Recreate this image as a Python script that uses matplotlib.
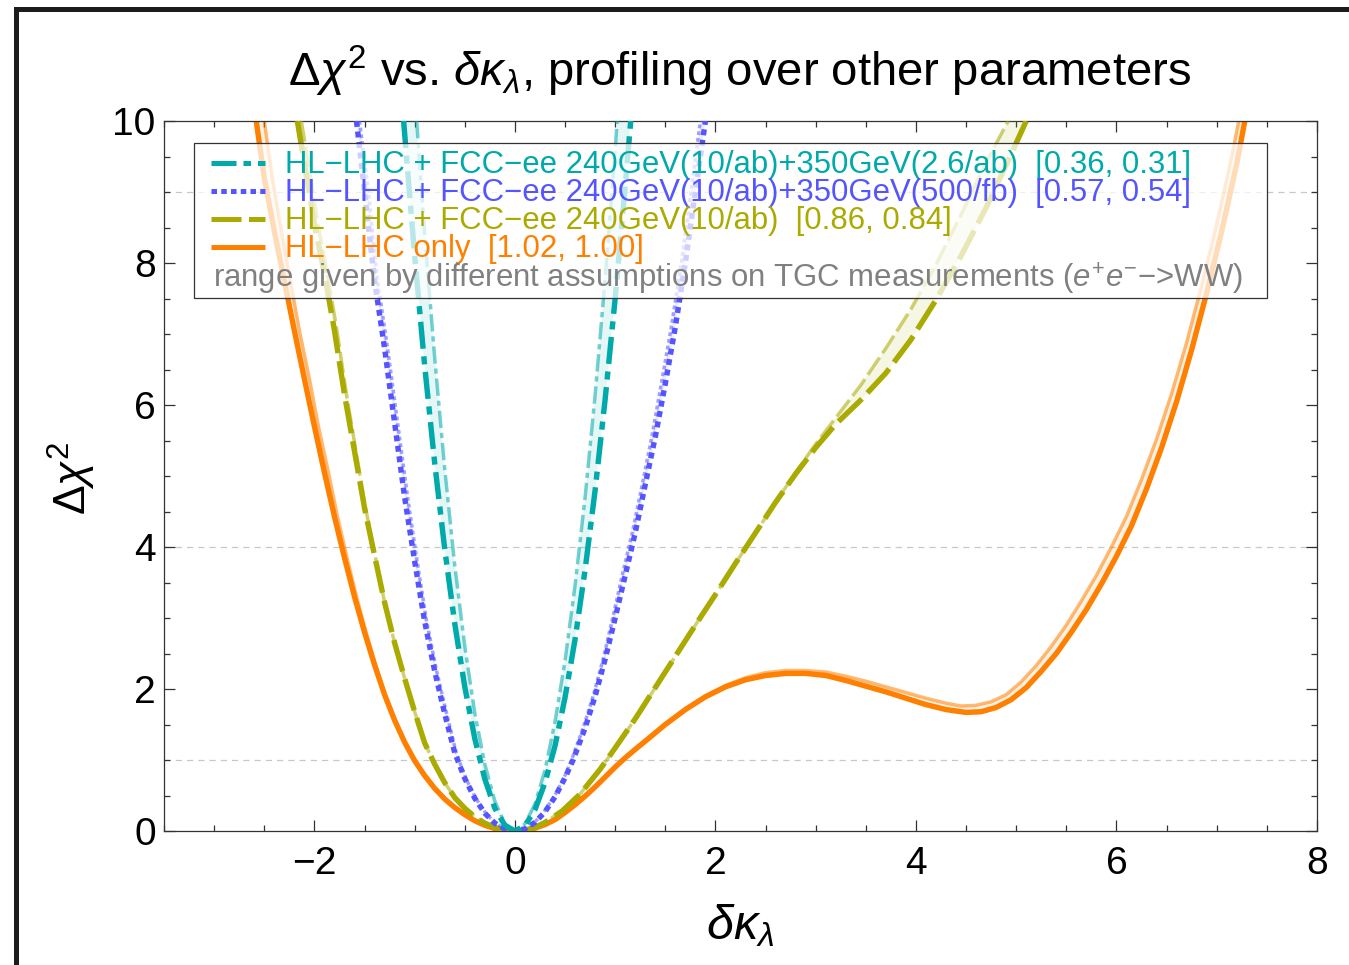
import numpy as np
import matplotlib
matplotlib.use('Agg')
import matplotlib.pyplot as plt
from matplotlib.patches import Rectangle
from matplotlib.ticker import MultipleLocator

plt.rcParams['font.family'] = ['Liberation Sans', 'DejaVu Sans']
plt.rcParams['mathtext.fontset'] = 'custom'
plt.rcParams['mathtext.rm'] = 'Liberation Sans'
plt.rcParams['mathtext.it'] = 'Liberation Sans:italic'
plt.rcParams['mathtext.bf'] = 'Liberation Sans:bold'

# ---------------- data ----------------
# FCC-ee 240 + 350 GeV (2.6/ab): two TGC assumptions
cyan_a_x = [-1.11, -1.05, -1.0, -0.9, -0.8, -0.7, -0.6, -0.5, -0.4, -0.3, -0.2, -0.1, 0.0,
            0.1, 0.2, 0.3, 0.4, 0.5, 0.6, 0.7, 0.8, 0.9, 1.0, 1.1, 1.155]
cyan_a_y = [10.0, 8.95, 8.1, 6.55, 5.18, 3.97, 2.92, 2.03, 1.3, 0.73, 0.32, 0.08, 0.0,
            0.075, 0.3, 0.68, 1.2, 1.88, 2.7, 3.68, 4.8, 6.08, 7.5, 9.08, 10.0]
cyan_b_x = [-0.98, -0.9, -0.8, -0.7, -0.6, -0.5, -0.4, -0.3, -0.2, -0.1, 0.0,
            0.1, 0.2, 0.3, 0.4, 0.5, 0.6, 0.7, 0.8, 0.9, 1.0, 1.02]
cyan_b_y = [10.0, 8.42, 6.66, 5.1, 3.74, 2.6, 1.66, 0.94, 0.42, 0.1, 0.0,
            0.1, 0.38, 0.86, 1.54, 2.4, 3.46, 4.7, 6.14, 7.78, 9.6, 10.0]

# FCC-ee 240 + 350 GeV (500/fb)
blue_a_x = [-1.58, -1.5, -1.4, -1.3, -1.2, -1.1, -1.0, -0.9, -0.8, -0.7, -0.6, -0.5, -0.4, -0.3, -0.2, -0.1, 0.0,
            0.1, 0.2, 0.3, 0.4, 0.5, 0.58, 0.7, 0.8, 0.9, 1.0, 1.1, 1.2, 1.3, 1.4, 1.5, 1.6, 1.7, 1.8, 1.9]
blue_a_y = [10.0, 9.0, 7.75, 6.8, 5.75, 4.7, 3.8, 2.95, 2.25, 1.65, 1.1, 0.74, 0.46, 0.25, 0.11, 0.03, 0.0,
            0.03, 0.12, 0.27, 0.48, 0.75, 1.0, 1.45, 1.9, 2.42, 3.0, 3.6, 4.2, 4.88, 5.55, 6.3, 7.1, 8.0, 9.0, 10.0]
blue_b_x = [-1.55, -1.46, -1.37, -1.27, -1.17, -1.07, -0.975, -0.88, -0.78, -0.68, -0.585, -0.49, -0.39, -0.29, -0.195, -0.1, 0.0,
            0.1, 0.195, 0.29, 0.39, 0.49, 0.565, 0.68, 0.78, 0.88, 0.975, 1.07, 1.17, 1.27, 1.365, 1.46, 1.56, 1.66, 1.755, 1.85]
blue_b_y = blue_a_y

# FCC-ee 240 GeV only
olive_a_x = [-2.17, -2.1, -2.0, -1.9, -1.8, -1.7, -1.6, -1.5, -1.4, -1.3, -1.2, -1.1, -1.0, -0.9, -0.8, -0.7,
             -0.6, -0.5, -0.4, -0.3, -0.2, -0.1, 0.0,
             0.1, 0.2, 0.3, 0.47, 0.65, 0.85, 1.0, 1.2, 1.4, 1.6, 1.8, 2.0, 2.2, 2.4, 2.6, 2.8, 3.0, 3.2,
             3.45, 3.7, 3.95, 4.2, 4.45, 4.7, 4.9, 5.1]
olive_a_y = [10.0, 9.4, 8.55, 7.85, 7.05, 6.15, 5.35, 4.55, 3.88, 3.22, 2.65, 2.15, 1.68, 1.24, 0.94, 0.68,
             0.47, 0.32, 0.2, 0.11, 0.05, 0.012, 0.0,
             0.01, 0.05, 0.12, 0.28, 0.52, 0.87, 1.17, 1.58, 2.02, 2.46, 2.9, 3.33, 3.77, 4.2, 4.63, 5.03, 5.4, 5.73,
             6.07, 6.45, 6.92, 7.48, 8.1, 8.78, 9.38, 10.0]
olive_b_x = [-2.13, -2.06, -1.965, -1.87, -1.775, -1.68, -1.585, -1.49, -1.395, -1.3, -1.2, -1.1, -1.0, -0.9, -0.8, -0.7,
             -0.6, -0.5, -0.4, -0.3, -0.2, -0.1, 0.0,
             0.1, 0.2, 0.3, 0.47, 0.65, 0.85, 1.0, 1.2, 1.4, 1.6, 1.8, 2.0, 2.2, 2.4, 2.6, 2.8, 3.0, 3.2,
             3.45, 3.7, 3.95, 4.2, 4.45, 4.7, 4.92]
olive_b_y = [10.0, 9.4, 8.55, 7.85, 7.05, 6.15, 5.35, 4.55, 3.88, 3.22, 2.65, 2.15, 1.68, 1.24, 0.94, 0.68,
             0.47, 0.32, 0.2, 0.11, 0.05, 0.012, 0.0,
             0.01, 0.05, 0.12, 0.28, 0.52, 0.87, 1.17, 1.58, 2.02, 2.46, 2.9, 3.33, 3.77, 4.2, 4.63, 5.05, 5.45, 5.82,
             6.28, 6.8, 7.35, 7.98, 8.68, 9.42, 10.0]

# HL-LHC only
orange_a_x = [-2.58, -2.5, -2.4, -2.3, -2.2, -2.1, -2.0, -1.9, -1.8, -1.7, -1.6, -1.5, -1.4, -1.3, -1.2, -1.1,
              -1.0, -0.9, -0.8, -0.7, -0.6, -0.5, -0.4, -0.3, -0.2, -0.1, 0.0,
              0.1, 0.2, 0.3, 0.4, 0.5, 0.6, 0.7, 0.8, 0.9, 1.0, 1.1, 1.2, 1.33, 1.5, 1.7, 1.9, 2.1, 2.3, 2.5,
              2.7, 2.9, 3.1, 3.3, 3.5, 3.7, 3.9, 4.1, 4.3, 4.5, 4.65, 4.8, 4.95, 5.1, 5.25, 5.4, 5.55, 5.7,
              5.85, 6.0, 6.15, 6.3, 6.45, 6.6, 6.75, 6.9, 7.05, 7.2, 7.28]
orange_a_y = [10.0, 9.2, 8.45, 7.75, 7.05, 6.37, 5.7, 5.05, 4.43, 3.85, 3.3, 2.8, 2.34, 1.92, 1.56, 1.25,
              0.99, 0.78, 0.6, 0.45, 0.33, 0.23, 0.145, 0.08, 0.035, 0.009, 0.0,
              0.01, 0.04, 0.09, 0.16, 0.26, 0.37, 0.49, 0.62, 0.76, 0.9, 1.03, 1.15, 1.3, 1.5, 1.71, 1.89, 2.03, 2.13, 2.19,
              2.22, 2.22, 2.19, 2.12, 2.04, 1.96, 1.87, 1.78, 1.71, 1.67, 1.68, 1.74, 1.85, 2.02, 2.25, 2.5, 2.8, 3.12,
              3.48, 3.87, 4.3, 4.82, 5.4, 6.05, 6.78, 7.58, 8.45, 9.4, 10.0]
orange_b_x = [-2.5, -2.42, -2.33, -2.24, -2.15, -2.05, -1.96, -1.86, -1.77, -1.675, -1.58, -1.485, -1.39, -1.295, -1.195, -1.1,
              -1.0, -0.9, -0.8, -0.7, -0.6, -0.5, -0.4, -0.3, -0.2, -0.1, 0.0,
              0.1, 0.2, 0.3, 0.4, 0.5, 0.6, 0.7, 0.8, 0.9, 1.0, 1.1, 1.2, 1.33, 1.5, 1.7, 1.9, 2.1, 2.3, 2.5,
              2.7, 2.9, 3.1, 3.3, 3.5, 3.7, 3.9, 4.1, 4.3, 4.45, 4.6, 4.75, 4.9, 5.05, 5.2, 5.35, 5.5, 5.65,
              5.8, 5.95, 6.1, 6.25, 6.4, 6.55, 6.7, 6.85, 7.0, 7.15, 7.22]
orange_b_y = [10.0, 9.2, 8.45, 7.75, 7.05, 6.37, 5.7, 5.05, 4.43, 3.85, 3.3, 2.8, 2.34, 1.92, 1.56, 1.25,
              0.99, 0.78, 0.6, 0.45, 0.33, 0.23, 0.145, 0.08, 0.035, 0.009, 0.0,
              0.01, 0.04, 0.09, 0.16, 0.26, 0.37, 0.49, 0.62, 0.76, 0.9, 1.03, 1.15, 1.3, 1.5, 1.72, 1.9, 2.05, 2.16, 2.23,
              2.26, 2.26, 2.24, 2.18, 2.11, 2.03, 1.95, 1.87, 1.8, 1.76, 1.77, 1.82, 1.92, 2.1, 2.33, 2.6, 2.9, 3.24,
              3.6, 4.0, 4.43, 4.95, 5.52, 6.16, 6.88, 7.68, 8.55, 9.5, 10.0]

legend_labels = [
    "HL\u2212LHC + FCC\u2212ee 240GeV(10/ab)+350GeV(2.6/ab)  [0.36, 0.31]",
    "HL\u2212LHC + FCC\u2212ee 240GeV(10/ab)+350GeV(500/fb)  [0.57, 0.54]",
    "HL\u2212LHC + FCC\u2212ee 240GeV(10/ab)  [0.86, 0.84]",
    "HL\u2212LHC only  [1.02, 1.00]",
]
note_label = "range given by different assumptions on TGC measurements ($e^{+}e^{-}$\u2212>WW)"
gridlines_y = [1, 4, 9]

# ---------------- styles ----------------
C_CYAN = '#00AAAA'
C_BLUE = '#5555FF'
C_OLIVE = '#AAAA00'
C_ORANGE = '#FF8000'
C_GRAY = '#808080'

dash_of = {C_CYAN: (5.0, 1.4, 1.5, 1.4), C_BLUE: (1.1, 0.85), C_OLIVE: (6.0, 1.5), C_ORANGE: None}
series = [
    (orange_a_x, orange_a_y, orange_b_x, orange_b_y, C_ORANGE),
    (olive_a_x, olive_a_y, olive_b_x, olive_b_y, C_OLIVE),
    (blue_a_x, blue_a_y, blue_b_x, blue_b_y, C_BLUE),
    (cyan_a_x, cyan_a_y, cyan_b_x, cyan_b_y, C_CYAN),
]

W, H = 1349, 965
fig = plt.figure(figsize=(W / 100, H / 100), dpi=100)
ax = fig.add_axes([164 / W, 1 - 831 / H, (1317 - 164) / W, (831 - 121) / H])

for y in gridlines_y:
    ax.axhline(y, color='#c8c8c8', lw=0.9, dashes=(5, 4), zorder=1)

LW_A = 3.9
LW_B = 2.5
for z, (xa, ya, xb, yb, col) in enumerate(series):
    xa = np.asarray(xa); ya = np.asarray(ya); xb = np.asarray(xb); yb = np.asarray(yb)
    ax.fill(np.concatenate([xa, xb[::-1]]), np.concatenate([ya, yb[::-1]]),
            color=col, alpha=0.10, lw=0, zorder=2 + z)
    lb, = ax.plot(xb, yb, color=col, alpha=0.55, lw=LW_B, zorder=2 + z, solid_capstyle='butt')
    la, = ax.plot(xa, ya, color=col, lw=LW_A, zorder=2 + z, solid_capstyle='butt')
    dsh = dash_of[col]
    if dsh is not None:
        la.set_dashes(dsh)
        lb.set_dashes(dsh)

ax.set_xlim(-3.5, 8)
ax.set_ylim(0, 10)
ax.xaxis.set_major_locator(MultipleLocator(2))
ax.xaxis.set_minor_locator(MultipleLocator(0.5))
ax.yaxis.set_major_locator(MultipleLocator(2))
ax.yaxis.set_minor_locator(MultipleLocator(0.5))
ax.tick_params(which='both', direction='in', top=True, right=True, width=0.9, color='#333333')
ax.tick_params(which='major', length=8, labelsize=28, pad=11)
ax.tick_params(which='minor', length=4.5)
ax.tick_params(axis='y', which='major', pad=6)
for s in ax.spines.values():
    s.set_linewidth(0.9)
    s.set_color('#333333')

# legend box (semi-transparent white)
lx0 = (194 - 164) / 1153
lx1 = (1267 - 164) / 1153
ly0 = (831 - 298) / 710
ly1 = (831 - 143) / 710
ax.add_patch(Rectangle((lx0, ly0), lx1 - lx0, ly1 - ly0, transform=ax.transAxes,
                       facecolor='white', alpha=0.72, edgecolor='none', zorder=10))
ax.add_patch(Rectangle((lx0, ly0), lx1 - lx0, ly1 - ly0, transform=ax.transAxes,
                       facecolor='none', edgecolor='#333333', lw=0.9, zorder=11))

row_mid = [163, 191, 219, 247]
row_base = [173, 201, 229, 257, 288]
hx0 = (211 - 164) / 1153
hx1 = (265 - 164) / 1153
tx = (285 - 164) / 1153
leg_cols = [C_CYAN, C_BLUE, C_OLIVE, C_ORANGE]
for i, (lab, col) in enumerate(zip(legend_labels, leg_cols)):
    yy = (831 - row_mid[i]) / 710
    ln, = ax.plot([hx0, hx1], [yy, yy], transform=ax.transAxes, color=col, lw=3.6, zorder=12,
                  solid_capstyle='butt')
    if dash_of[col] is not None:
        ln.set_dashes(dash_of[col])
    ax.text(tx, (831 - row_base[i]) / 710, lab, transform=ax.transAxes, color=col,
            fontsize=22.4, ha='left', va='baseline', zorder=12)
ax.text((213 - 164) / 1153, (831 - row_base[4]) / 710, note_label, transform=ax.transAxes,
        color=C_GRAY, fontsize=22.4, ha='left', va='baseline', zorder=12)

# title and axis labels
fig.text(740 / W, 1 - 86 / H, r'$\Delta\chi^2$ vs. $\delta\kappa_\lambda$, profiling over other parameters',
         fontsize=34, ha='center', va='baseline')
fig.text(740 / W, 1 - 926 / H, r'$\delta\kappa_\lambda$', fontsize=35, ha='center', va='center')
fig.text(72 / W, 1 - 478 / H, r'$\Delta\chi^2$', fontsize=32, ha='center', va='center', rotation=90)

# outer frame (left and top edges visible)
fig.add_artist(Rectangle((15.8 / W, -0.5), 2.0, 0.5 + 1 - 9.2 / H, transform=fig.transFigure,
                         fill=False, lw=3.6, edgecolor='#1c1c1c', clip_on=False))

fig.savefig('out.png', dpi=100)
